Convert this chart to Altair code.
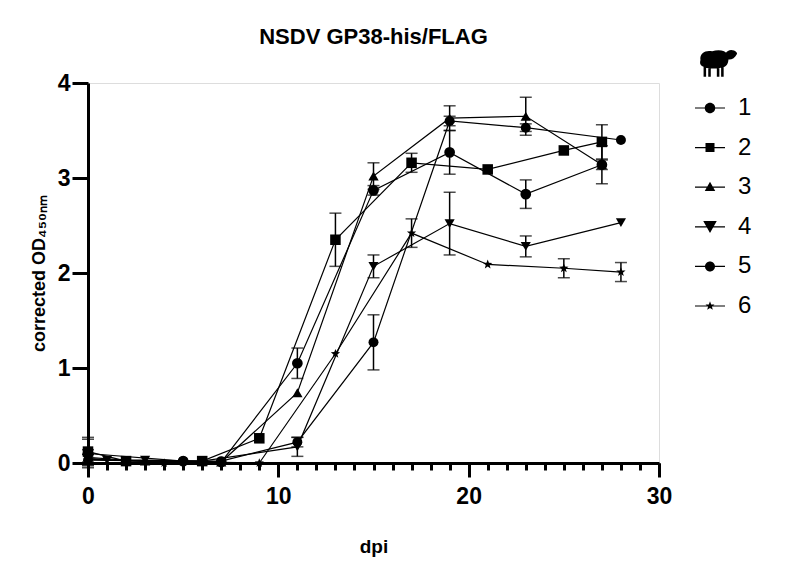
import math
import re
import altair as alt
import pandas as pd

# ---------------- data ----------------
sheep_ids = ["1", "2", "3", "4", "5", "6"]

s1_dpi = [0, 5, 7, 11, 15, 19, 23, 27]
s1_od = [0.10, 0.02, 0.01, 1.05, 2.87, 3.27, 2.83, 3.14]
s1_sd = [0.15, 0.00, 0.00, 0.16, 0.05, 0.23, 0.15, 0.05]

s2_dpi = [0, 2, 6, 9, 13, 17, 21, 25, 27]
s2_od = [0.12, 0.02, 0.02, 0.26, 2.35, 3.16, 3.09, 3.29, 3.38]
s2_sd = [0.15, 0.00, 0.00, 0.02, 0.28, 0.10, 0.03, 0.03, 0.18]

s3_dpi = [0, 3, 7, 11, 15, 19, 23, 27]
s3_od = [0.04, 0.02, 0.01, 0.74, 3.02, 3.63, 3.65, 3.14]
s3_sd = [0.05, 0.00, 0.00, 0.03, 0.14, 0.13, 0.20, 0.20]

s4_dpi = [0, 1, 3, 6, 11, 15, 19, 23, 28]
s4_od = [0.05, 0.03, 0.03, 0.02, 0.17, 2.07, 2.52, 2.28, 2.53]
s4_sd = [0.04, 0.00, 0.02, 0.00, 0.10, 0.12, 0.33, 0.11, 0.02]

s5_dpi = [0, 5, 7, 11, 15, 19, 23, 28]
s5_od = [0.03, 0.02, 0.02, 0.22, 1.27, 3.60, 3.53, 3.40]
s5_sd = [0.03, 0.00, 0.00, 0.05, 0.29, 0.05, 0.04, 0.02]

s6_dpi = [0, 4, 6, 9, 13, 17, 21, 25, 28]
s6_od = [0.06, 0.00, 0.01, 0.00, 1.15, 2.42, 2.09, 2.05, 2.01]
s6_sd = [0.08, 0.00, 0.00, 0.00, 0.02, 0.15, 0.02, 0.10, 0.10]

x_major_ticks = [0, 10, 20, 30]
x_minor_ticks = list(range(0, 31))
y_ticks = [0, 1, 2, 3, 4]

series = [
    (s1_dpi, s1_od, s1_sd), (s2_dpi, s2_od, s2_sd), (s3_dpi, s3_od, s3_sd),
    (s4_dpi, s4_od, s4_sd), (s5_dpi, s5_od, s5_sd), (s6_dpi, s6_od, s6_sd),
]
rows = []
for sid, (d, m, e) in zip(sheep_ids, series):
    for di, mi, ei in zip(d, m, e):
        rows.append({"sheep": sid, "dpi": di, "od": mi, "lo": mi - ei, "hi": mi + ei, "sd": ei})
df = pd.DataFrame(rows)
err_df = df[df["sd"] > 0.03]

# ---------------- marker shapes ----------------
def star_path(R=1.0, r=0.42, scale=1.0):
    pts = []
    for k in range(10):
        ang = math.radians(-90 + 36 * k)
        rad = (R if k % 2 == 0 else r) * scale
        pts.append((rad * math.cos(ang), rad * math.sin(ang)))
    return "M" + "L".join(f"{x:.3f},{y:.3f}" for x, y in pts) + "Z"

def circ(r):
    return f"M{r},0A{r},{r},0,1,1,{-r},0A{r},{r},0,1,1,{r},0Z"

def scale_path(p, f):
    return re.sub(r"-?\d*\.?\d+", lambda m: f"{float(m.group()) * f:.3f}", p)

STAR = star_path()
data_shapes = ["circle", "square", "triangle-up", "triangle-down", "circle", STAR]
data_sizes = [115, 95, 100, 190, 110, 85]

LINE = "M-3,-0.12H3V0.12H-3Z"
legend_shapes = [
    LINE + circ(1.05),
    LINE + "M-0.9,-0.9H0.9V0.9H-0.9Z",
    LINE + "M0,-1.1L1.05,0.75L-1.05,0.75Z",
    LINE + "M-1.35,-1.15L1.35,-1.15L0,1.25Z",
    LINE + circ(1.0),
    LINE + star_path(scale=0.95),
]

SHEEP_UNIT = (
    "M-0.9,-0.1C-0.95,-0.5,-0.6,-0.62,-0.3,-0.55C0,-0.66,0.38,-0.62,0.5,-0.38"
    "C0.6,-0.1,0.5,0.3,0.2,0.28C-0.1,0.36,-0.5,0.36,-0.7,0.26C-0.9,0.2,-0.95,0.1,-0.9,-0.1Z"
    "M0.38,-0.42C0.5,-0.68,0.8,-0.66,0.95,-0.5L0.98,-0.42C0.85,-0.15,0.62,-0.08,0.45,-0.15Z"
    "M-0.74,0.2h0.13v0.55h-0.13ZM-0.5,0.2h0.13v0.55h-0.13Z"
    "M-0.06,0.2h0.13v0.55h-0.13ZM0.16,0.2h0.13v0.55h-0.13Z"
)
SHEEP = scale_path(SHEEP_UNIT, 3.9)

FONT = "Liberation Sans"
AX = dict(domainWidth=3, domainColor="black", tickWidth=3, tickColor="black", grid=False)

x_major = alt.X(
    "dpi:Q",
    scale=alt.Scale(domain=[0, 30], nice=False, zero=False),
    axis=alt.Axis(
        title="dpi", orient="bottom", values=x_major_ticks, tickSize=14, format="d",
        labelPadding=8, labelFlush=False, labelOverlap=False,
        labelFontSize=23, labelFontWeight="bold", labelFont=FONT, labelColor="black",
        titleFontSize=19, titleFontWeight="bold", titleFont=FONT, titleColor="black",
        titlePadding=29, **AX,
    ),
)
x_minor = alt.X(
    "dpi:Q",
    scale=alt.Scale(domain=[0, 30], nice=False, zero=False),
    axis=alt.Axis(
        title=None, orient="bottom", values=x_minor_ticks, tickSize=7, labels=False,
        domain=False, tickWidth=3, tickColor="black", grid=False,
    ),
)
x_plain = alt.X("dpi:Q", axis=None)

y_enc = alt.Y(
    "od:Q",
    scale=alt.Scale(domain=[0, 4], nice=False),
    axis=alt.Axis(
        title="corrected OD₄₅₀ₙₘ", values=y_ticks, tickSize=16, format="d",
        labelPadding=2, labelFlush=False,
        labelFontSize=23, labelFontWeight="bold", labelFont=FONT, labelColor="black",
        titleFontSize=18, titleFontWeight="bold", titleFont=FONT, titleColor="black",
        titlePadding=9, **AX,
    ),
)

base = alt.Chart(df)

minor_axis_layer = base.mark_line(color="black", strokeWidth=1.2).encode(
    x=x_minor, y=y_enc, detail="sheep:N", order="dpi:Q"
)

err_rule = alt.Chart(err_df).mark_rule(color="black", strokeWidth=1.5).encode(
    x=x_plain, y="lo:Q", y2="hi:Q"
)
err_hi = alt.Chart(err_df).mark_tick(color="black", orient="horizontal", size=12, thickness=1.5).encode(
    x=x_plain, y="hi:Q"
)
err_lo = alt.Chart(err_df).mark_tick(color="black", orient="horizontal", size=12, thickness=1.5).encode(
    x=x_plain, y="lo:Q"
)

points = base.mark_point(filled=True, color="black", opacity=1).encode(
    x=x_major, y="od:Q",
    shape=alt.Shape("sheep:N", scale=alt.Scale(domain=sheep_ids, range=data_shapes), legend=None),
    size=alt.Size("sheep:N", scale=alt.Scale(domain=sheep_ids, range=data_sizes), legend=None),
)

legend_layer = base.transform_filter("false").transform_calculate(
    key="datum.sheep"
).mark_point(filled=True, fill="black", stroke="black", strokeWidth=0).encode(
    x=x_plain, y="od:Q",
    shape=alt.Shape(
        "key:N",
        scale=alt.Scale(domain=sheep_ids, range=legend_shapes),
        legend=alt.Legend(
            title=None, orient="none", legendX=610, legendY=13,
            symbolSize=100, symbolFillColor="black", symbolStrokeWidth=0,
            labelFontSize=24, labelFont=FONT, labelColor="black",
            labelOffset=16, rowPadding=15.6, padding=0, symbolOpacity=1,
        ),
    ),
)

icon_layer = base.transform_filter("false").transform_calculate(
    icon="'sheep'"
).mark_point(filled=True, fill="black", stroke="black", strokeWidth=0).encode(
    x=x_plain, y="od:Q",
    shape=alt.Shape(
        "icon:N",
        scale=alt.Scale(domain=["sheep"], range=[SHEEP]),
        legend=alt.Legend(
            title=None, orient="none", legendX=625, legendY=-26,
            symbolSize=100, symbolFillColor="black", symbolStrokeWidth=0,
            labelExpr="''", labelFontSize=1, padding=0, symbolOpacity=1,
        ),
    ),
)

chart = alt.layer(
    minor_axis_layer, err_rule, err_hi, err_lo, points, legend_layer, icon_layer
).resolve_scale(
    shape="independent", size="independent"
).resolve_axis(
    x="independent"
).properties(
    width=571, height=380,
    title=alt.Title("NSDV GP38-his/FLAG", fontSize=22, fontWeight="bold", font=FONT,
                    color="black", offset=8, anchor="middle"),
    padding={"left": 22, "top": 18, "right": 5, "bottom": 5},
).configure_view(stroke=None).configure(background="white")

chart.save("out.html", embed_options={"renderer": "svg", "actions": False})
